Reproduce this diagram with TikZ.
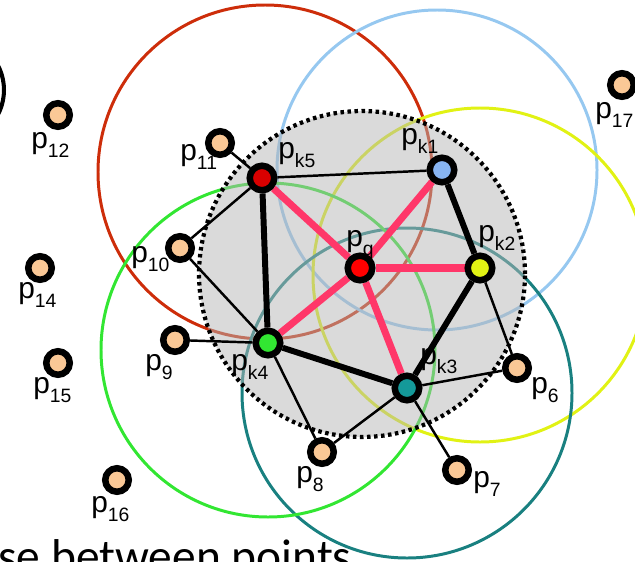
\documentclass[tikz,border=0pt]{standalone}
\usepackage{fontspec}
\setmainfont{Liberation Sans}
\newfontfamily\capfont{Carlito}
\definecolor{peach}{RGB}{250,200,150}
\definecolor{cred}{RGB}{205,45,10}
\definecolor{cblue}{RGB}{150,200,240}
\definecolor{cyel}{RGB}{225,242,20}
\definecolor{cteal}{RGB}{25,128,128}
\definecolor{cgreen}{RGB}{50,230,50}
\definecolor{cpink}{RGB}{255,55,105}
\definecolor{shadegray}{RGB}{181,181,181}
\newcommand{\plab}[1]{p\raisebox{-0.19cm}{\fontsize{11}{11}\selectfont#1}}
\pgfdeclarelayer{rings}
\pgfdeclarelayer{shade}
\pgfdeclarelayer{links}
\pgfsetlayers{rings,shade,links,main}
\tikzset{
	pt/.style={circle,draw=black,line width=3.7pt,fill=peach,minimum size=0.47cm,inner sep=0},
	kpt/.style={pt,minimum size=0.49cm,fill=#1},
	lab/.style={anchor=base west,inner sep=0,font=\fontsize{17}{17}\selectfont},
	ring/.style={draw=#1,line width=1.7pt},
	thick link/.style={line width=3.4pt},
	thin link/.style={line width=1.4pt},
	pink link/.style={cpink,line width=4pt}
}

\begin{document}
\begin{tikzpicture}[x=0.02cm,y=-0.02cm]
\useasboundingbox (0,0) rectangle (635,561);
\clip (0,0) rectangle (635,561);

%points
\foreach \n/\x/\y in {12/58/115,11/220/143,10/180/248,14/40/268,15/58/363,9/175/340,16/117/480,8/322/452,17/622/85,6/517/368,7/457/470}
	\node[pt] (p\n) at (\x,\y) {};
\foreach \n/\x/\y/\c in {k5/262/178/red!85!black,k1/442/170/cblue!90!blue,k2/480/268/cyel,q/360/268/red,k3/407/388/cteal!80!cyan,k4/268/343/cgreen}
	\node[kpt=\c] (p\n) at (\x,\y) {};

%labels
\foreach \n/\x/\y in {12/31/148,11/180/160,k5/278/158,10/131/262,q/346/246,k1/401/144,k2/478/241,17/595/118,14/18/298,15/33/393,9/145/370,k4/231/370,16/91/512,8/296/482,6/531/393,7/473/487,k3/420/364}
	\node[lab] (l\n) at (\x,\y) {\plab{\n}};

%search circles
\begin{pgfonlayer}{rings}
\foreach \n/\c/\dx/\dy/\r in {k5/cred/3/-6/167,k1/cblue/-5/0/160,k2/cyel/0/7/167,k3/cteal/0/5/165,k4/cgreen/0/7/167}
	\draw[ring=\c] ([shift={(\dx,\dy)}]p\n.center) circle[radius=\r*0.02cm];
\end{pgfonlayer}
\begin{pgfonlayer}{shade}
\fill[shadegray,opacity=0.5] ([shift={(2,6)}]pq.center) circle[radius=3.26cm];
\end{pgfonlayer}

%links
\begin{pgfonlayer}{links}
\draw[line width=2.4pt,dash pattern=on 2pt off 2pt] ([shift={(2,6)}]pq.center) circle[radius=3.26cm];
\foreach \a/\b in {k5/k1,k5/11,k5/10,10/k4,k4/9,k4/8,8/k3,k3/6,k3/7,k2/6}
	\draw[thin link] (p\a) -- (p\b);
\foreach \a/\b in {k5/k4,k4/k3,k3/k2,k2/k1}
	\draw[thick link] (p\a) -- (p\b);
\foreach \b in {k5,k1,k2,k3,k4}
	\draw[pink link] (pq) -- (p\b);
\end{pgfonlayer}

\draw[line width=2.3pt] (-49,90) circle[radius=1.06cm];
\node[anchor=base west,inner sep=0,font=\capfont\fontsize{27}{27}\selectfont] (cap) at (-2,572) {se between points};
\end{tikzpicture}
\end{document}
